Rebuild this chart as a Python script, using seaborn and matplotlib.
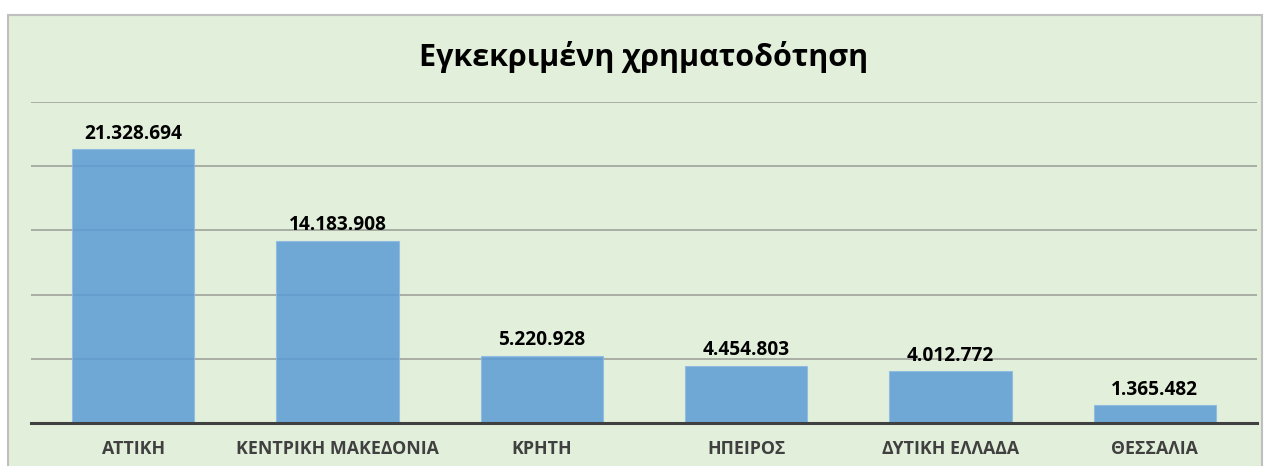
import matplotlib
matplotlib.use("Agg")
import matplotlib.pyplot as plt
import seaborn as sns
import pandas as pd
from matplotlib.patches import Rectangle

# data
regions = ["ΑΤΤΙΚΗ", "ΚΕΝΤΡΙΚΗ ΜΑΚΕΔΟΝΙΑ", "ΚΡΗΤΗ", "ΗΠΕΙΡΟΣ", "ΔΥΤΙΚΗ ΕΛΛΑΔΑ", "ΘΕΣΣΑΛΙΑ"]
funding = [21328694, 14183908, 5220928, 4454803, 4012772, 1365482]
title = "Εγκεκριμένη χρηματοδότηση"

df = pd.DataFrame({"region": regions, "funding": funding})

sns.set_style("white")
plt.rcParams['font.family'] = ['Open Sans', 'DejaVu Sans']

fig = plt.figure(figsize=(12.67, 4.66), dpi=100)
fig.patch.set_facecolor("white")
# green chart area with grey border (drawn below the axes)
fig.patches.append(Rectangle((8 / 1267, -0.02), (1262 - 8) / 1267, 1 - 15 / 466 + 0.02,
                             transform=fig.transFigure, facecolor="#E2EFDA",
                             edgecolor="#BFBFBF", linewidth=1.5, zorder=-1))

ax = fig.add_axes([31 / 1267, 1 - 423 / 466, (1257 - 31) / 1267, (423 - 102) / 466])
ax.set_facecolor("none")

sns.barplot(data=df, x="region", y="funding", color="#5B9BD5", alpha=0.85,
            width=0.6, saturation=1, edgecolor="#8DBBE6", linewidth=0.8,
            ax=ax, zorder=3)

ax.set_ylim(0, 25_000_000)
ax.set_yticks(range(0, 25_000_001, 5_000_000))
ax.yaxis.grid(True, color="#A5A9A0", linewidth=1.3, zorder=0)
ax.set_axisbelow(True)
ax.tick_params(axis="y", left=False, labelleft=False)
ax.tick_params(axis="x", bottom=False, pad=9)
for s in ["top", "right", "left"]:
    ax.spines[s].set_visible(False)
ax.spines["bottom"].set_color("#404040")
ax.spines["bottom"].set_linewidth(2.2)
ax.spines["bottom"].set_zorder(5)

for lbl in ax.get_xticklabels():
    lbl.set_fontweight("bold")
    lbl.set_fontsize(12.8)
    lbl.set_color("#404040")
ax.set_xlabel("")
ax.set_ylabel("")

for i, v in enumerate(funding):
    ax.annotate(f"{v:,}".replace(",", "."), (i, v), xytext=(0, 4),
                textcoords="offset points", ha="center", va="bottom",
                fontsize=13.8, fontweight="bold", color="black")

fig.text(644 / 1267, 1 - 57 / 466, title, ha="center", va="center",
         fontsize=22, fontweight="bold", color="black")

fig.savefig("out.png", dpi=100)
